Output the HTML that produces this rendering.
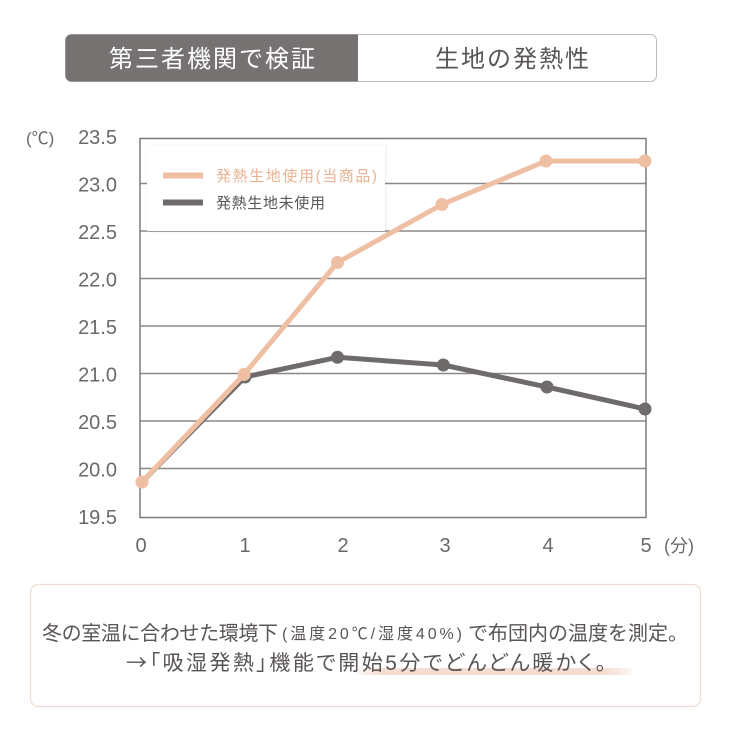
<!DOCTYPE html>
<html>
<head>
<meta charset="utf-8">
<style>
  html,body{margin:0;padding:0;background:#fff;}
  body{width:730px;height:730px;overflow:hidden;}
  svg{display:block;}
  .jp{font-family:"Liberation Sans","Noto Sans CJK JP",sans-serif;}
  .cjk{font-family:"Noto Sans CJK JP",sans-serif;}
  .palt{font-feature-settings:"palt" 1;}
</style>
</head>
<body>
<svg width="730" height="730" viewBox="0 0 730 730" xmlns="http://www.w3.org/2000/svg">
  <defs>
    <linearGradient id="hl" x1="0" x2="1" y1="0" y2="0">
      <stop offset="0" stop-color="#f6ddd3" stop-opacity="0.2"/>
      <stop offset="0.1" stop-color="#f6ddd3" stop-opacity="1"/>
      <stop offset="0.9" stop-color="#f6ddd3" stop-opacity="1"/>
      <stop offset="1" stop-color="#f6ddd3" stop-opacity="0.3"/>
    </linearGradient>
    <filter id="sh" x="-5%" y="-10%" width="110%" height="120%">
      <feDropShadow dx="0.5" dy="0.5" stdDeviation="1" flood-color="#000" flood-opacity="0.10"/>
    </filter>
  </defs>

  <!-- Header tabs -->
  <rect x="65.5" y="34.5" width="591" height="47" rx="6" ry="6" fill="#fff" stroke="#bdbaba" stroke-width="1"/>
  <path d="M71.5 34.5 H358 V81.5 H71.5 A6 6 0 0 1 65.5 75.5 V40.5 A6 6 0 0 1 71.5 34.5 Z" fill="#767272"/>
  <text class="jp" x="213" y="67" font-size="24" fill="#ffffff" text-anchor="middle" letter-spacing="2">第三者機関で検証</text>
  <text class="jp" x="513" y="67" font-size="24" fill="#5a5656" text-anchor="middle" letter-spacing="2">生地の発熱性</text>

  <!-- Gridlines -->
  <g stroke="#8a8787" stroke-width="1.5">
    <line x1="140" y1="183.5" x2="646" y2="183.5"/>
    <line x1="140" y1="231" x2="646" y2="231"/>
    <line x1="140" y1="278.5" x2="646" y2="278.5"/>
    <line x1="140" y1="326" x2="646" y2="326"/>
    <line x1="140" y1="373.5" x2="646" y2="373.5"/>
    <line x1="140" y1="421" x2="646" y2="421"/>
    <line x1="140" y1="468.5" x2="646" y2="468.5"/>
  </g>
  <!-- Frame -->
  <rect x="140" y="138.5" width="506" height="379" fill="none" stroke="#7d7a7a" stroke-width="1.5"/>

  <!-- Legend box -->
  <rect x="147" y="145" width="238" height="86" fill="#fff" filter="url(#sh)"/>
  <line x1="163" y1="175.5" x2="203" y2="175.5" stroke="#efbfa3" stroke-width="6"/>
  <line x1="163" y1="202.5" x2="203" y2="202.5" stroke="#6f6b6b" stroke-width="6"/>
  <text class="jp" x="216" y="181" font-size="15" fill="#e9b394" textLength="161" lengthAdjust="spacing">発熱生地使用(当商品)</text>
  <text class="jp" x="216" y="208" font-size="15" fill="#5a5656" textLength="109" lengthAdjust="spacing">発熱生地未使用</text>

  <!-- Gray series -->
  <polyline points="142,482 245,377 337.5,357.3 443.3,365 547,387 645,409" fill="none" stroke="#6f6b6b" stroke-width="5" stroke-linejoin="round"/>
  <g fill="#6f6b6b">
    <circle cx="245" cy="377" r="6.5"/>
    <circle cx="337.5" cy="357.3" r="6.5"/>
    <circle cx="443.3" cy="365" r="6.5"/>
    <circle cx="547" cy="387" r="6.5"/>
    <circle cx="645" cy="409" r="6.5"/>
  </g>

  <!-- Orange series -->
  <polyline points="142,482 244,374.5 337.5,262.5 442,204.5 546,161 645,161" fill="none" stroke="#efbfa3" stroke-width="5" stroke-linejoin="round"/>
  <g fill="#efbfa3">
    <circle cx="142" cy="482" r="6.5"/>
    <circle cx="244" cy="374.5" r="6.5"/>
    <circle cx="337.5" cy="262.5" r="6.5"/>
    <circle cx="442" cy="204.5" r="6.5"/>
    <circle cx="546" cy="161" r="6.5"/>
    <circle cx="645" cy="161" r="6.5"/>
  </g>

  <!-- Y axis labels -->
  <g font-family="Liberation Sans, sans-serif" font-size="20" fill="#6b6868" text-anchor="end">
    <text x="117" y="144">23.5</text>
    <text x="117" y="191.5">23.0</text>
    <text x="117" y="239">22.5</text>
    <text x="117" y="286.5">22.0</text>
    <text x="117" y="334">21.5</text>
    <text x="117" y="381.5">21.0</text>
    <text x="117" y="429">20.5</text>
    <text x="117" y="476.5">20.0</text>
    <text x="117" y="524">19.5</text>
  </g>
  <text class="jp" x="26" y="144" font-size="17" fill="#6b6868">(℃)</text>

  <!-- X axis labels -->
  <g font-family="Liberation Sans, sans-serif" font-size="20" fill="#6b6868" text-anchor="middle">
    <text x="141" y="552">0</text>
    <text x="245" y="552">1</text>
    <text x="343" y="552">2</text>
    <text x="445" y="552">3</text>
    <text x="548" y="552">4</text>
    <text x="646" y="552">5</text>
  </g>
  <text class="jp" x="664" y="552" font-size="18" fill="#6b6868">(分)</text>

  <!-- Bottom box -->
  <rect x="30.5" y="584.5" width="670" height="122" rx="8" ry="8" fill="#fff" stroke="#ecdcd4" stroke-width="1.2"/>
  <rect x="355" y="668" width="277" height="7" rx="3.5" fill="url(#hl)"/>
  <text class="jp" x="42" y="640" font-size="20" fill="#5a5555" textLength="236" lengthAdjust="spacing">冬の室温に合わせた環境下</text>
  <text class="jp" x="282" y="639" font-size="16" fill="#5a5555" textLength="180" lengthAdjust="spacing">(温度20℃/湿度40%)</text>
  <text class="jp" x="688" y="640" font-size="20" fill="#5a5555" text-anchor="end">で布団内の温度を測定。</text>
  <text class="jp palt" x="126" y="670" font-size="21" fill="#5a5555" textLength="480" lengthAdjust="spacing"><tspan class="cjk">→</tspan>「吸湿発熱」機能で開始5分でどんどん暖かく。</text>
</svg>
</body>
</html>
